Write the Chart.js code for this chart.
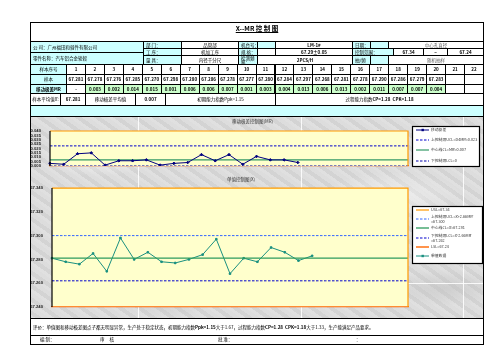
<!DOCTYPE html>
<html><head><meta charset="utf-8">
<script src="https://cdn.jsdelivr.net/npm/chart.js@4/dist/chart.umd.min.js"></script>
<style>
html,body{margin:0;padding:0;background:#fff;width:503px;height:356px;overflow:hidden;}
#page{position:relative;width:503px;height:356px;font-family:"Noto Sans CJK SC","Noto Sans",sans-serif;color:#000;}
.c{position:absolute;box-sizing:border-box;font-size:4.5px;line-height:1;display:flex;align-items:center;justify-content:center;white-space:nowrap;overflow:hidden;border:1px solid #000;}
.t{position:absolute;font-size:4.5px;line-height:1;white-space:nowrap;}
.marble{position:absolute;left:30px;top:116px;width:453px;height:202px;
 background:
 radial-gradient(ellipse 60px 20px at 15% 20%,rgba(255,255,255,.55),transparent),
 radial-gradient(ellipse 80px 15px at 45% 70%,rgba(255,255,255,.5),transparent),
 radial-gradient(ellipse 70px 25px at 80% 40%,rgba(255,255,255,.5),transparent),
 radial-gradient(ellipse 50px 20px at 30% 90%,rgba(190,190,190,.5),transparent),
 radial-gradient(ellipse 60px 18px at 92% 85%,rgba(190,190,190,.5),transparent),
 repeating-linear-gradient(35deg,rgba(255,255,255,.18) 0 3px,rgba(180,180,180,.15) 3px 7px,rgba(255,255,255,.1) 7px 11px),
 #d9d9d9;}
.gl{position:absolute;background:rgba(255,255,255,.85);}
canvas{position:absolute;}
</style></head><body><div id="page">
<div class="marble"></div>
<div class="gl" style="left:138px;top:116px;width:1px;height:202px"></div>
<div class="gl" style="left:301px;top:116px;width:1px;height:202px"></div>
<div class="gl" style="left:463px;top:116px;width:1px;height:202px"></div>
<div class="gl" style="left:408px;top:283px;width:75px;height:1px"></div>
<canvas id="mr" width="453" height="60" style="left:30px;top:116px;width:453px;height:60px"></canvas>
<canvas id="xc" width="453" height="140" style="left:30px;top:176px;width:453px;height:140px"></canvas>
</div>
<script>
// ---- data ----
const tableCols = ['1','2','3','4','5','6','7','8','9','10','11','12','13','14','15','16','17','18','19','20','21','22'];
const axisLabels = ['1','2','3','4','5','6','7','8','9','10','11','12','13','14','15','16','17','18','19','20','21','22','23','24','25','26','27'];
const xValues = [67.281,67.278,67.276,67.285,67.270,67.298,67.280,67.286,67.278,67.277,67.280,67.284,67.297,67.268,67.281,67.278,67.290,67.286,67.279,67.283];
const mrValues = [0.003,0.002,0.014,0.015,0.001,0.006,0.006,0.007,0.001,0.003,0.004,0.013,0.006,0.013,0.002,0.011,0.007,0.007,0.004];
const xBar = 67.281, xUCL = 67.300, xLCL = 67.262, USL = 67.340, LSL = 67.240;
const mrBar = 0.007, mrUCL = 0.023, mrLCL = 0;
const ppk = '1.15', cp = '1.28', cpk = '1.18';

const page = document.getElementById('page');
function cell(x,y,w,h,text,opt){
  opt = opt||{};
  const d=document.createElement('div');
  d.className='c';
  d.style.left=x+'px';d.style.top=y+'px';d.style.width=(w+1)+'px';d.style.height=(h+1)+'px';
  if(opt.bg) d.style.background=opt.bg;
  if(opt.bold) d.style.fontWeight='bold';
  if(opt.left){d.style.justifyContent='flex-start';d.style.paddingLeft='2px';}
  if(opt.size) d.style.fontSize=opt.size+'px';
  if(opt.nob) d.style.border='none';
  d.innerHTML=text;
  page.appendChild(d);
  return d;
}
const CY='#ccffff', GR='#ccffcc';
// outer frame
cell(30,22,453,296,'',{});
// title
const tt=cell(30,22,453,19,'<u>X--MR&nbsp;控 制 图</u>',{bold:true,size:6.5,nob:true});
tt.style.alignItems='flex-start';tt.style.paddingTop='3px';
// header rows
cell(30,41,113,11,'公 司：广州福田和骑件有限公司',{bg:CY,left:true});
cell(30,52,113,12,'零件名称：汽车铝合金轮毂',{bg:CY,left:true});
cell(143,41,38,7,'部 门：',{bg:CY,left:true});
cell(181,41,57,7,'品管部');
cell(238,41,19,7,'机台号：',{bg:CY,left:true});
cell(257,41,18,7,'',{bg:CY});
cell(275,41,77,7,'LM-1#',{bold:true});
cell(352,41,18,7,'日期：',{bg:CY,left:true});
cell(370,41,18,7,'',{bg:CY});
cell(388,41,95,7,'<span style="color:#666">中心孔直径</span>');
cell(143,48,38,7,'工 序：',{bg:CY,left:true});
cell(181,48,57,7,'机加工序');
cell(238,48,19,7,'规 格：',{bg:CY,left:true});
cell(257,48,18,7,'');
cell(275,48,77,7,'67.29±0.05',{bold:true});
cell(352,48,41,7,'控制范围：',{bg:CY,left:true});
cell(393,48,30,7,USL.toFixed(2),{bold:true});
cell(423,48,24,7,'~',{bold:true});
cell(447,48,36,7,LSL.toFixed(2),{bold:true});
cell(143,55,38,9,'量 具：',{bg:CY,left:true});
cell(181,55,57,9,'内径千分尺');
cell(238,55,19,9,'检测频<br>率：',{bg:CY,left:true});
cell(257,55,95,9,'2PCS/H',{bold:true});
cell(352,55,18,9,'抽/频',{bg:CY,left:true});
cell(370,55,18,9,'',{bg:CY});
cell(388,55,95,9,'<span style="color:#666">随机抽样</span>');
// data table
const cw=(483-66)/22;
cell(30,64,36,10,'样本序号',{bg:CY});
cell(30,74,36,10,'样本',{bg:CY});
cell(30,84,36,9,'移动极差MR',{bg:CY,bold:true});
tableCols.forEach((c,i)=>{
  const x=66+i*cw;
  cell(x,64,cw,10,c,{bold:true});
  cell(x,74,cw,10,i<xValues.length?xValues[i].toFixed(3):'',{bold:true});
  let mr='';
  if(i===0) mr='-';
  else if(i-1<mrValues.length) mr=mrValues[i-1].toFixed(3);
  cell(x,84,cw,9,mr,{bold:true,bg:(i>0&&i-1<mrValues.length)?GR:undefined});
});
// summary row
cell(30,93,30,12,'样本平均值X̄:',{});
cell(60,93,25,12,xBar.toFixed(3),{bold:true});
cell(85,93,50,12,'移动极差平均值',{});
cell(135,93,30,12,mrBar.toFixed(3),{bold:true});
cell(165,93,110,12,'初期能力指数Ppk='+ppk,{});
cell(275,93,208,12,'过程能力指数<b>CP='+cp+'&nbsp;&nbsp;CPK='+cpk+'</b>',{});
cell(30,105,453,11,'',{bg:CY});
// bottom
cell(30,318,453,17,'评价：单值图和移动极差图点子都无明显异常，生产处于稳定状态，初期能力指数<b>Ppk='+ppk+'</b>大于1.67，过程能力指数<b>CP='+cp+'&nbsp;&nbsp;CPK='+cpk+'</b>大于1.33，生产能满足产品要求。',{left:true});
cell(30,335,453,9,'',{});
function txt(x,y,s){const d=document.createElement('div');d.className='t';d.style.left=x+'px';d.style.top=y+'px';d.innerHTML=s;page.appendChild(d);}
txt(40,337,'编 制：');txt(100,337,'审&nbsp;&nbsp;&nbsp;&nbsp;&nbsp;核');txt(218,337,'批 准：');txt(356,337,'：');
txt(232,119,'<span style="color:#333">移动极差控制图(MR)</span>');
txt(227,177,'<span style="color:#333">单值控制图(X)</span>');

// ---- charts ----
const areaPlugin={id:'area',
  beforeDatasetsDraw(chart){const a=chart.chartArea,ctx=chart.ctx;ctx.save();ctx.fillStyle='#ffffcc';ctx.fillRect(a.left,a.top,a.right-a.left,a.bottom-a.top);ctx.restore();},
  afterDraw(chart){const a=chart.chartArea,ctx=chart.ctx;ctx.save();ctx.strokeStyle='#ff9900';ctx.lineWidth=1.2;
    ctx.beginPath();ctx.moveTo(a.left,a.top);ctx.lineTo(a.right,a.top);ctx.lineTo(a.right,a.bottom);ctx.stroke();
    ctx.strokeStyle='#000';ctx.beginPath();ctx.moveTo(a.left,a.top);ctx.lineTo(a.left,a.bottom);ctx.stroke();
    ctx.restore();}
};
const legendPlugin={id:'boxLegend',
  afterDraw(chart,args,o){
    const ctx=chart.ctx,b=o.box;ctx.save();
    ctx.fillStyle='#fff';ctx.fillRect(b.x,b.y,b.w,b.h);
    ctx.strokeStyle='#000';ctx.lineWidth=1.2;ctx.strokeRect(b.x+.5,b.y+.5,b.w,b.h);
    chart.data.datasets.forEach((ds,i)=>{
      const y=o.rows[i];
      ctx.strokeStyle=ds.borderColor;ctx.lineWidth=ds.borderWidth;ctx.setLineDash(ds.borderDash||[]);
      ctx.beginPath();ctx.moveTo(b.x+4,y);ctx.lineTo(b.x+17,y);ctx.stroke();ctx.setLineDash([]);
      if(ds.pointRadius>0){ctx.fillStyle=ds.borderColor;ctx.fillRect(b.x+9.5,y-1.2,2.4,2.4);}
      ctx.fillStyle='#333';ctx.font='3.8px "Noto Sans CJK SC"';ctx.textBaseline='middle';
      const ls=ds.label.split('\n');
      ls.forEach((l,j)=>ctx.fillText(l,b.x+19,y+(j-(ls.length-1)/2)*4.2));
    });
    ctx.restore();}
};
const tickFont={size:4.2,family:'"Liberation Sans"',weight:'bold'};
function xScale(h){return {type:'category',offset:false,grid:{display:false},border:{color:'#ff6600',width:1.2},
  ticks:{font:tickFont,color:'#222',autoSkip:false,maxRotation:0,padding:1},afterFit(s){s.height=h;}};}
const common={responsive:false,animation:false,events:[],plugins:{legend:{display:false},tooltip:{enabled:false}}};

new Chart(document.getElementById('mr'),{type:'line',
  data:{labels:axisLabels,datasets:[
    {label:'移动极差',data:mrValues,borderColor:'#000080',backgroundColor:'#000080',borderWidth:1,pointRadius:1.3,pointStyle:'rectRot'},
    {label:'上控制限UCL=D4MR̄='+mrUCL.toFixed(3),data:axisLabels.map(()=>mrUCL),borderColor:'#0000cc',borderWidth:1,borderDash:[2.5,1.5],pointRadius:0},
    {label:'中心线CL=MR̄='+mrBar.toFixed(3),data:axisLabels.map(()=>mrBar),borderColor:'#339966',borderWidth:1.2,pointRadius:0},
    {label:'下控制限LCL='+mrLCL,data:axisLabels.map(()=>mrLCL),borderColor:'#0000aa',borderWidth:1.2,borderDash:[2.5,1.5],pointRadius:0}
  ]},
  options:Object.assign({},common,{
    layout:{padding:{top:15,right:75,left:0,bottom:0}},
    scales:{x:xScale(10),
      y:{min:0,max:0.04,grid:{display:false},border:{display:false},
        ticks:{stepSize:0.005,autoSkip:false,font:tickFont,color:'#222',padding:1,callback:v=>Number(v).toFixed(3)},afterFit(s){s.width=20;}}},
    plugins:Object.assign({},common.plugins,{boxLegend:{box:{x:382,y:10,w:67,h:40},rows:[14,24,34,45]}})
  }),
  plugins:[areaPlugin,legendPlugin]
});

new Chart(document.getElementById('xc'),{type:'line',
  data:{labels:axisLabels,datasets:[
    {label:'USL='+USL.toFixed(2),data:axisLabels.map(()=>USL),borderColor:'#ff9900',borderWidth:1.2,pointRadius:0},
    {label:'上控制限UCL=X̄+2.66MR̄\n='+xUCL.toFixed(3),data:axisLabels.map(()=>xUCL),borderColor:'#3366ff',borderWidth:1,borderDash:[2.5,1.5],pointRadius:0},
    {label:'中心线CL=X̄='+xBar.toFixed(3),data:axisLabels.map(()=>xBar),borderColor:'#2e9b5e',borderWidth:1.3,pointRadius:0},
    {label:'下控制限LCL=X̄-2.66MR̄\n='+xLCL.toFixed(3),data:axisLabels.map(()=>xLCL),borderColor:'#0000cc',borderWidth:1,borderDash:[2.5,1.5],pointRadius:0},
    {label:'LSL='+LSL.toFixed(2),data:axisLabels.map(()=>LSL),borderColor:'#ff6600',borderWidth:1.4,pointRadius:0},
    {label:'单值数据',data:xValues,borderColor:'#1a9080',backgroundColor:'#1a9080',borderWidth:1,pointRadius:1.1,pointStyle:'rect'}
  ]},
  options:Object.assign({},common,{
    layout:{padding:{top:12,right:75,left:0,bottom:0}},
    scales:{x:xScale(9),
      y:{min:LSL,max:USL,grid:{display:false},border:{display:false},
        ticks:{stepSize:0.02,autoSkip:false,font:tickFont,color:'#222',padding:1,callback:v=>Number(v).toFixed(3)},afterFit(s){s.width=22;}}},
    plugins:Object.assign({},common.plugins,{boxLegend:{box:{x:382,y:30,w:70,h:57},rows:[34,43,52,62,71,80]}})
  }),
  plugins:[areaPlugin,legendPlugin]
});
</script>
</body></html>
